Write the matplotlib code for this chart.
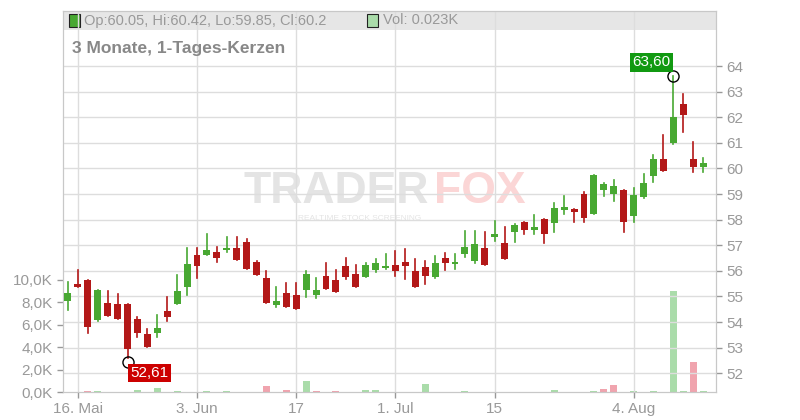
import matplotlib
matplotlib.use("Agg")
import matplotlib.pyplot as plt
from matplotlib.patches import Rectangle

plt.rcParams['font.family'] = ['Liberation Sans', 'DejaVu Sans']

opens  = [54.84,55.49,55.64,54.08,54.75,54.71,54.71,54.12,53.54,53.59,54.43,54.72,55.38,56.62,56.63,56.73,56.81,56.89,57.12,56.33,
          55.72,54.68,55.14,55.06,55.25,55.07,55.80,55.64,56.19,55.88,55.76,56.05,56.13,56.23,56.35,55.99,56.14,55.76,56.50,56.28,
          56.67,56.40,56.89,57.34,57.09,57.53,57.91,57.61,58.03,57.86,58.39,58.42,59.00,58.23,59.17,59.01,59.16,58.15,58.90,59.72,
          60.37,61.01,62.52,60.37,60.05]
closes = [55.15,55.38,53.79,55.25,54.25,54.14,52.93,53.59,53.01,53.77,54.21,55.21,56.27,56.20,56.81,56.51,56.89,56.43,56.08,55.84,
          54.76,54.84,54.60,54.53,55.88,55.25,55.30,55.19,55.77,55.38,56.23,56.31,56.21,56.01,56.20,55.38,55.81,56.31,56.32,56.35,
          56.93,57.05,56.24,57.44,56.48,57.79,57.61,57.71,57.45,58.46,58.49,58.31,58.08,59.74,59.39,59.31,57.92,58.96,59.43,60.37,
          59.91,62.01,62.10,60.07,60.20]
highs  = [55.58,56.03,55.64,55.25,55.21,55.10,54.71,54.20,53.73,54.27,54.97,55.84,56.89,56.88,57.46,56.92,57.33,57.33,57.23,56.38,
          56.00,55.38,55.54,55.51,56.00,55.71,56.32,56.03,56.51,56.23,56.32,56.46,56.66,56.78,56.85,56.45,56.39,56.58,56.70,56.66,
          57.56,57.56,57.50,57.95,57.71,57.83,57.92,58.18,58.03,58.65,58.92,58.42,59.08,59.74,59.44,59.55,59.16,59.22,59.78,60.52,
          61.30,63.60,62.91,61.03,60.42]
lows   = [54.47,55.38,53.59,54.05,54.25,54.14,52.61,53.40,53.01,53.40,54.06,54.72,55.07,55.73,56.63,56.36,56.75,56.43,56.08,55.84,
          54.76,54.60,54.60,54.53,54.99,54.95,55.30,55.19,55.68,55.38,55.76,55.97,56.06,55.80,55.68,55.38,55.50,55.71,56.03,56.07,
          56.54,56.32,56.24,57.18,56.48,57.14,57.43,57.43,57.10,57.53,58.23,57.92,57.92,58.23,58.93,58.74,57.53,57.92,58.83,59.48,
          59.91,60.95,61.43,59.87,59.85]
volumes = [0,0,0.1,0.1,0,0,0,0.2,0,0.4,0,0.1,0,0,0.1,0,0.1,0,0,0,0.57,0,0.2,0,1.0,0.1,0,0.1,0,0,0.2,
           0.18,0,0,0,0,0.74,0,0,0,0.1,0,0,0,0,0,0,0,0,0.18,0,0,0,0.1,0.24,0.62,0,0.1,0,0.1,0,9.0,0.1,2.7,0.1]
vol_up = [1,1,0,1,1,1,1,1,1,1,1,1,1,1,1,1,1,1,1,1,0,1,0,1,1,0,1,0,1,1,1,
          1,1,1,1,1,1,1,1,1,1,1,1,1,1,1,1,1,1,1,1,1,1,1,0,0,1,1,1,1,1,1,1,0,1]
date_labels = ["16. Mai", "3. Jun", "17", "1. Jul", "15", "4. Aug"]
date_idx = [1, 13, 23, 33, 43, 57]
price_ticks = list(range(52, 65))
vol_ticks = [0, 2, 4, 6, 8, 10]
vol_labels = ["0,0K", "2,0K", "4,0K", "6,0K", "8,0K", "10,0K"]

GREEN = "#48a832"; RED = "#b31818"
fig = plt.figure(figsize=(8, 4.2), dpi=100)
L, R, B, T = 63/800, 716/800, 1-392/420, 1-11/420
ax = fig.add_axes([L, B, R-L, T-B])
axv = ax.twinx()
ax.yaxis.tick_right()
axv.yaxis.tick_left()
ax.set_zorder(2); ax.patch.set_visible(False)
axv.set_zorder(1)

# header band (under grid)
fig.patches.append(Rectangle((L, 1-30/420), R-L, 19/420, transform=fig.transFigure, fc='#e6e6e6', ec='none', zorder=0))

n = len(opens)
xs = list(range(n))
for i in xs:
    o, c, h, l = opens[i], closes[i], highs[i], lows[i]
    col = GREEN if c >= o else RED
    ax.plot([i, i], [l, h], color=col, lw=1.2, zorder=3)
    ax.add_patch(Rectangle((i - 0.35, min(o, c)), 0.7, max(abs(c - o), 0.06), color=col, zorder=4, lw=0))
    axv.bar(i, volumes[i], width=0.7, color="#aadcaa" if vol_up[i] else "#f0a4ae", zorder=2)

ax.set_xlim(-0.5, 65.3)
ax.set_ylim(51.27, 66.15)
axv.set_ylim(0, 34.0)
ax.set_yticks(price_ticks)
ax.set_yticklabels([str(t) for t in price_ticks])
axv.set_yticks(vol_ticks)
axv.set_yticklabels(vol_labels)
ax.set_xticks(date_idx)
ax.set_xticklabels(date_labels)
for a in (ax, axv):
    a.tick_params(colors="#999999", labelsize=11, length=4, width=1)
    for s in a.spines.values():
        s.set_color("#c8c8c8")
axv.patch.set_visible(False)
for t in price_ticks:
    ax.axhline(t, color="#dddddd", lw=1, zorder=0)
for d in date_idx:
    ax.axvline(d, color="#dddddd", lw=1, zorder=0)

# extremes
imin = lows.index(min(lows)); imax = highs.index(max(highs))
ax.plot(imin, lows[imin] - 0.15, 'o', mfc='none', mec='black', ms=8, zorder=6)
ax.text(imin + 0.3, lows[imin] - 0.6, f"{lows[imin]:.2f}".replace('.', ','), color='white', fontsize=11,
        va='center', ha='left', zorder=7, bbox=dict(boxstyle='square,pad=0.15', fc='#cc0000', ec='none'))
ax.plot(imax, highs[imax], 'o', mfc='none', mec='black', ms=8, zorder=6)
ax.text(imax - 0.3, highs[imax] + 0.55, f"{highs[imax]:.2f}".replace('.', ','), color='white', fontsize=11,
        va='center', ha='right', zorder=7, bbox=dict(boxstyle='square,pad=0.15', fc='#119911', ec='none'))

# watermark
fig.text(0.42, 0.545, "TRADER", fontsize=32, fontweight='bold', color='#e4e4e4', ha='center', va='center', zorder=0)
fig.text(0.60, 0.545, "FOX", fontsize=32, fontweight='bold', color='#fbd6d6', ha='center', va='center', zorder=0)
fig.text(0.45, 0.48, "REALTIME STOCK SCREENING", fontsize=6, color='#e4e4e4', ha='center', va='center')

# header
fig.patches.append(Rectangle((69/800, 1-27/420), 11/800, 13/420, transform=fig.transFigure, fc=GREEN, ec='#222222', lw=0.8))
fig.text(84/800, 1-20.5/420, f"Op:{opens[-1]:.2f}, Hi:{highs[-1]:.2f}, Lo:{lows[-1]:.2f}, Cl:{closes[-1]:.1f}",
         fontsize=10.5, color='#999999', va='center')
fig.patches.append(Rectangle((367/800, 1-27/420), 11/800, 13/420, transform=fig.transFigure, fc='#aadcaa', ec='#222222', lw=0.8))
fig.text(383/800, 1-20.5/420, "Vol: 0.023K", fontsize=10.5, color='#999999', va='center')
fig.text(72/800, 1-48/420, "3 Monate, 1-Tages-Kerzen", fontsize=12.5, fontweight='bold', color='#888888', va='center')

fig.savefig("out.png", dpi=100)
